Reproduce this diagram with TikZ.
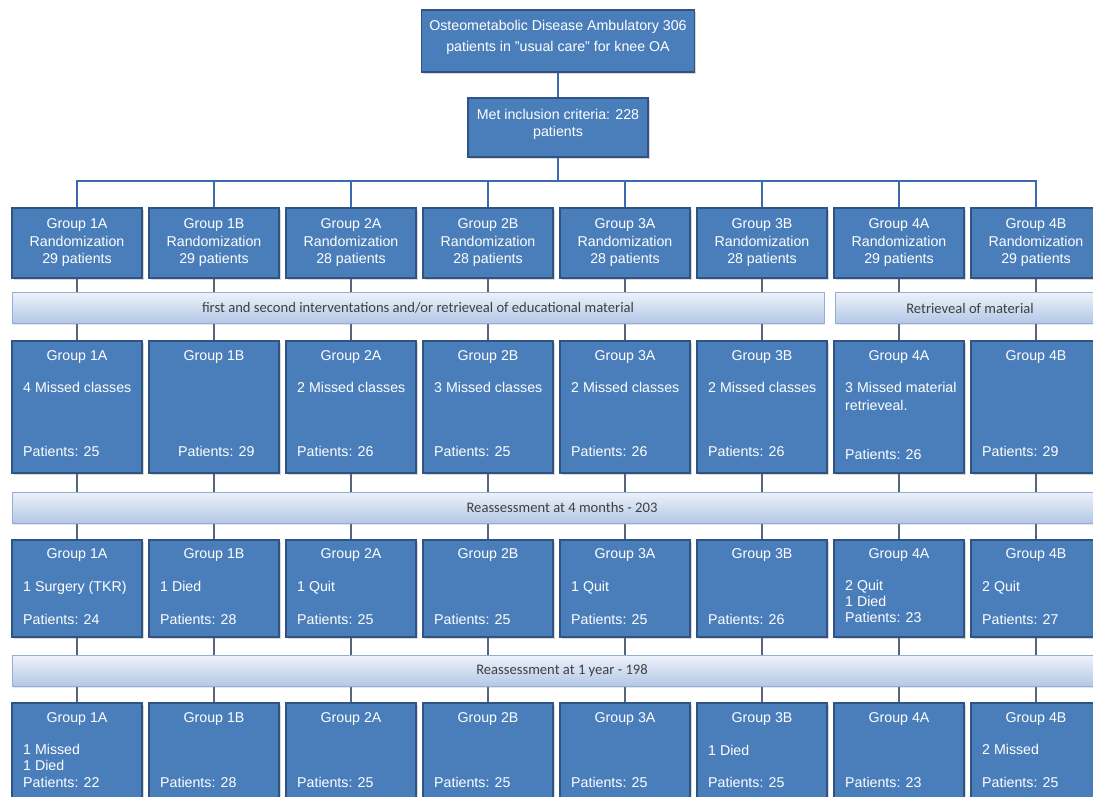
\documentclass[tikz,border=0pt]{standalone}
\usepackage{fontspec}
\setmainfont{Liberation Sans}
\newfontfamily\bannerfont{Carlito}
\usetikzlibrary{shadows}
\definecolor{boxblue}{HTML}{4A7EBB}
\definecolor{boxedge}{HTML}{2F5383}
\definecolor{treeline}{HTML}{3D6AAE}
\definecolor{linkline}{HTML}{56647E}
\definecolor{bantop}{HTML}{EDF2FA}
\definecolor{banbot}{HTML}{B3C7E7}
\definecolor{banedge}{HTML}{93ADD5}
\begin{document}
\begin{tikzpicture}[x=1pt,y=-1pt,
  gbox/.style={rectangle, draw=boxedge, line width=1.2pt, fill=boxblue, inner sep=0pt,
    minimum width=130pt, drop shadow={shadow xshift=1.5pt, shadow yshift=-1.5pt, opacity=0.3}},
  wtext/.style={text=white, font=\fontsize{14.2}{16}\selectfont, inner sep=0pt},
  ltext/.style={wtext, anchor=base west},
  ctext/.style={wtext, anchor=base},
  banner/.style={rectangle, draw=banedge, line width=0.8pt, top color=bantop, bottom color=banbot,
    inner sep=0pt, minimum height=31pt, text=black!75, font=\bannerfont\fontsize{14.6}{16}\selectfont,
    drop shadow={shadow xshift=1pt, shadow yshift=-1.5pt, opacity=0.2}},
  tree/.style={draw=treeline, line width=2.8pt},
  link/.style={draw=linkline, line width=2.6pt}]
\useasboundingbox (0,0) rectangle (1093,796);
\fill[white] (0,0) rectangle (1093,796);

% top boxes
\node[gbox, minimum width=273pt, minimum height=62pt] (top) at (558,41) {};
\node[ctext] (toptxt1) at (558,30) {Osteometabolic Disease Ambulatory 306};
\node[ctext] (toptxt2) at (558,51) {patients in "usual care" for knee OA};
\node[gbox, minimum width=180pt, minimum height=59pt] (mid) at (558,127.5) {};
\node[ctext] (midtxt1) at (558,119) {Met inclusion criteria: 228};
\node[ctext] (midtxt2) at (558,136) {patients};

% column boxes
\foreach \i/\g/\n in {1/1A/29,2/1B/29,3/2A/28,4/2B/28,5/3A/28,6/3B/28,7/4A/29,8/4B/29}{
  \pgfmathsetmacro\cx{77+137*(\i-1)}
  \node[gbox, minimum height=70pt] (r1c\i) at (\cx,243) {};
  \node[ctext] (r1a\i) at (\cx,228) {Group \g};
  \node[ctext] (r1b\i) at (\cx,246) {Randomization};
  \node[ctext] (r1n\i) at (\cx,263) {\n\ patients};
  \node[gbox, minimum height=132pt] (r2c\i) at (\cx,407) {};
  \node[ctext] (r2a\i) at (\cx,360) {Group \g};
  \node[gbox, minimum height=97pt] (r3c\i) at (\cx,588.5) {};
  \node[ctext] (r3a\i) at (\cx,558) {Group \g};
  \node[gbox, minimum height=110pt] (r4c\i) at (\cx,758) {};
  \node[ctext] (r4a\i) at (\cx,722) {Group \g};
}

% row 2 details
\node[ltext] (r2d1) at (23,392) {4 Missed classes};
\node[ltext] (r2d3) at (297,392) {2 Missed classes};
\node[ltext] (r2d4) at (434,392) {3 Missed classes};
\node[ltext] (r2d5) at (571,392) {2 Missed classes};
\node[ltext] (r2d6) at (708,392) {2 Missed classes};
\node[ltext] (r2d7) at (845,392) {3 Missed material};
\node[ltext] (r2e7) at (845,410) {retrieveal.};
\node[ltext] (r2p1) at (23,456) {Patients: 25};
\node[ltext] (r2p2) at (178,456) {Patients: 29};
\node[ltext] (r2p3) at (297,456) {Patients: 26};
\node[ltext] (r2p4) at (434,456) {Patients: 25};
\node[ltext] (r2p5) at (571,456) {Patients: 26};
\node[ltext] (r2p6) at (708,456) {Patients: 26};
\node[ltext] (r2p7) at (845,459) {Patients: 26};
\node[ltext] (r2p8) at (982,456) {Patients: 29};

% row 3 details
\node[ltext] (r3d1) at (23,591) {1 Surgery (TKR)};
\node[ltext] (r3d2) at (160,591) {1 Died};
\node[ltext] (r3d3) at (297,591) {1 Quit};
\node[ltext] (r3d5) at (571,591) {1 Quit};
\node[ltext] (r3d7) at (845,590) {2 Quit};
\node[ltext] (r3e7) at (845,606) {1 Died};
\node[ltext] (r3d8) at (982,591) {2 Quit};
\foreach \i/\n in {1/24,2/28,3/25,4/25,5/25,6/26,8/27}{
  \pgfmathsetmacro\lx{23+137*(\i-1)}
  \node[ltext] (r3p\i) at (\lx,624) {Patients: \n};
}
\node[ltext] (r3p7) at (845,622) {Patients: 23};

% row 4 details
\node[ltext] (r4d1) at (23,754) {1 Missed};
\node[ltext] (r4e1) at (23,770) {1 Died};
\node[ltext] (r4d6) at (708,755) {1 Died};
\node[ltext] (r4d8) at (982,754) {2 Missed};
\foreach \i/\n in {1/22,2/28,3/25,4/25,5/25,6/25,7/23,8/25}{
  \pgfmathsetmacro\lx{23+137*(\i-1)}
  \node[ltext] (r4p\i) at (\lx,787) {Patients: \n};
}

% connectors
\coordinate (bus) at (558,181);
\draw[tree] (top) -- (mid);
\draw[tree] (mid) -- (bus);
\foreach \i in {1,...,8}{
  \draw[tree] (bus) -| (r1c\i.north);
  \draw[link] (r1c\i) -- (r2c\i);
  \draw[link] (r2c\i) -- (r3c\i);
  \draw[link] (r3c\i) -- (r4c\i);
}

% banners
\node[banner, minimum width=812pt] (ban1) at (418,308) {first and second interventations and/or retrieveal of educational material};
\node[banner, minimum width=270pt] (ban1b) at (970,308) {Retrieveal of material};
\node[banner, minimum width=1100pt] (ban2) at (562,507.5) {Reassessment at 4 months - 203};
\node[banner, minimum width=1100pt] (ban3) at (562,671) {Reassessment at 1 year - 198};
\end{tikzpicture}
\end{document}
